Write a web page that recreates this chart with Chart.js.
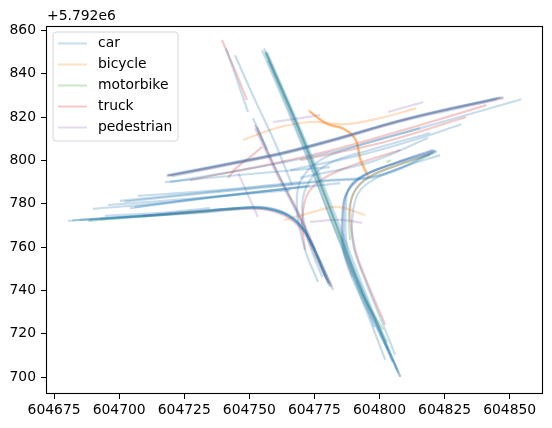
<!DOCTYPE html>
<html>
<head>
<meta charset="utf-8">
<script src="https://cdn.jsdelivr.net/npm/chart.js@4"></script>
<style>
    body { margin: 0; background: #fff; }
    #tracks { display: block; }
</style>
</head>
<body>
<canvas id="tracks" width="552" height="428"></canvas>
<script>
// y values are stored relative to the axis offset (+5.792e6), like the original plot shows them
const y_offset_label = "+5.792e6";
const categories = ["car", "bicycle", "motorbike", "truck", "pedestrian"];
const x_ticks = [604675, 604700, 604725, 604750, 604775, 604800, 604825, 604850];
const y_ticks = [700, 720, 740, 760, 780, 800, 820, 840, 860];

const car_tracks = [
    // left approach turning south
    [[604680.3, 772.1], [604696.4, 773.5], [604711.8, 774.4], [604731.0, 776.2], [604742.6, 777.6], [604754.1, 778.5], [604763.0, 776.2], [604769.5, 770.7], [604774.1, 761.0], [604778.0, 750.4], [604781.0, 741.6]],
    [[604684.9, 772.5], [604711.8, 774.8], [604731.0, 776.7], [604746.4, 778.0], [604754.9, 778.0], [604763.7, 775.3], [604770.3, 768.9], [604774.9, 758.7], [604779.1, 746.2]],
    [[604692.6, 773.0], [604731.0, 775.8], [604748.3, 777.6], [604756.0, 777.6], [604764.9, 774.4], [604771.4, 767.0], [604776.4, 755.5], [604782.2, 740.2]],
    [[604682.0, 772.3], [604711.8, 774.6], [604742.6, 777.8], [604754.1, 778.3], [604763.4, 775.8], [604770.0, 769.5], [604774.5, 759.5], [604778.5, 748.5], [604780.5, 743.0]],
    [[604688.5, 772.4], [604720.0, 775.5], [604745.0, 777.9], [604755.5, 778.1], [604764.0, 775.0], [604770.8, 768.0], [604775.5, 757.5], [604779.8, 745.0]],
    // from the north-east turning south
    [[604819.5, 812.6], [604796.4, 804.8], [604781.0, 798.8], [604773.3, 790.9], [604770.3, 779.4], [604772.6, 763.3], [604778.0, 746.2]],
    [[604815.7, 814.9], [604792.6, 807.1], [604777.2, 800.1], [604769.5, 790.0], [604768.3, 777.1], [604771.4, 758.7], [604776.4, 743.9]],
    // north to south
    [[604755.7, 851.7], [604769.5, 812.6], [604781.0, 777.1], [604794.5, 735.6], [604802.2, 714.9], [604808.0, 700.1]],
    [[604756.8, 849.9], [604771.4, 809.4], [604783.0, 774.8], [604796.4, 733.3], [604806.8, 703.4]],
    [[604754.9, 850.8], [604768.7, 811.7], [604779.9, 777.1], [604792.6, 738.0], [604802.2, 708.0]],
    [[604757.2, 846.2], [604771.4, 804.8], [604783.0, 767.9], [604792.6, 740.2], [604798.0, 723.0]],
    [[604756.3, 850.2], [604770.2, 811.5], [604781.8, 776.0], [604795.2, 734.8], [604807.3, 702.0]],
    // from the east turning south
    [[604821.8, 803.9], [604808.0, 799.2], [604796.4, 794.6], [604789.5, 789.5], [604787.2, 781.7], [604787.6, 758.7], [604792.6, 742.5], [604800.3, 721.8], [604808.0, 700.1]],
    [[604820.7, 804.8], [604806.0, 798.8], [604794.5, 793.2], [604788.7, 787.2], [604786.0, 779.4], [604786.0, 758.7], [604790.7, 742.5], [604798.3, 724.1], [604803.3, 712.6]],
    [[604821.0, 804.3], [604806.8, 799.0], [604795.2, 793.8], [604789.0, 788.2], [604786.5, 780.5], [604786.8, 758.7], [604791.5, 742.5], [604799.5, 722.8], [604805.0, 707.0]],
    [[604823.3, 802.4], [604809.9, 797.4], [604799.5, 792.3], [604792.6, 786.3], [604789.9, 777.1], [604789.9, 761.0], [604794.5, 744.8], [604802.2, 721.8], [604806.0, 710.3]],
    // west to east, upper road
    [[604718.3, 793.2], [604742.6, 798.8], [604761.8, 803.4], [604781.0, 809.4], [604808.0, 818.6], [604827.2, 824.1], [604847.6, 829.2]],
    [[604718.8, 793.0], [604742.6, 798.6], [604761.8, 803.2], [604781.0, 809.1], [604808.0, 818.4], [604827.2, 823.9], [604846.5, 829.0]],
    [[604720.0, 792.6], [604742.6, 798.0], [604761.8, 802.6], [604781.0, 808.6], [604808.0, 817.8], [604827.2, 823.2], [604845.0, 828.0]],
    [[604719.5, 790.0], [604742.6, 794.6], [604761.8, 798.8], [604784.9, 804.8], [604815.7, 814.9], [604854.5, 828.2]],
    [[604765.7, 795.5], [604792.6, 802.4], [604815.7, 810.3], [604831.4, 816.7]],
    [[604769.5, 791.9], [604796.4, 799.2], [604818.7, 810.3]],
    // west to east, lower road
    [[604700.3, 781.3], [604731.0, 785.0], [604761.8, 788.6], [604781.0, 791.0], [604796.4, 792.3], [604808.0, 796.5], [604821.4, 804.8]],
    [[604702.0, 781.0], [604731.0, 784.6], [604761.8, 788.2], [604781.0, 790.6], [604796.4, 791.9], [604808.5, 796.3], [604822.0, 804.4]],
    [[604689.9, 777.6], [604715.7, 780.3], [604750.3, 785.0], [604784.9, 789.5]],
    [[604695.7, 779.4], [604731.0, 782.7], [604765.7, 786.3]],
    [[604707.2, 783.6], [604738.7, 786.3], [604769.5, 790.0]],
    [[604717.6, 790.0], [604750.3, 793.7], [604781.0, 796.9]],
    [[604704.1, 778.0], [604734.9, 782.7], [604773.3, 788.2]],
    [[604706.0, 778.4], [604734.9, 783.0], [604772.0, 788.0]],
    // north-west arm
    [[604741.0, 851.7], [604745.3, 837.0], [604749.5, 822.3]],
    [[604744.5, 848.5], [604752.2, 827.8], [604759.9, 808.0], [604766.4, 788.6]],
    [[604751.4, 819.5], [604756.8, 804.8]],
    [[604753.0, 815.3], [604760.7, 794.6], [604769.5, 773.4], [604776.4, 755.0], [604781.0, 742.5]],
    [[604694.5, 774.4], [604715.7, 775.8], [604734.9, 778.0]]
];

const bicycle_tracks = [
    [[604772.6, 823.2], [604779.5, 817.2], [604786.0, 814.9], [604790.3, 810.7], [604791.8, 806.2], [604792.2, 801.5], [604794.1, 795.5], [604796.0, 792.3]],
    [[604773.3, 822.3], [604779.9, 816.7], [604786.4, 814.4], [604790.7, 809.8], [604791.8, 804.8], [604793.0, 800.1], [604794.9, 794.6]],
    [[604773.0, 822.8], [604779.7, 817.0], [604786.2, 814.6], [604790.5, 810.3], [604791.9, 805.5], [604792.6, 800.8], [604795.5, 793.5]],
    [[604747.6, 809.4], [604760.3, 814.9], [604773.3, 817.7], [604786.8, 816.7], [604800.3, 819.5], [604814.1, 824.1]],
    [[604763.4, 772.5], [604773.3, 775.8], [604783.7, 778.5], [604794.5, 774.8]]
];

const motorbike_tracks = [
    [[604756.0, 849.9], [604769.5, 812.6], [604781.0, 777.1], [604792.6, 740.2], [604801.4, 721.8]],
    [[604756.5, 849.0], [604770.0, 811.8], [604781.5, 776.5], [604794.0, 737.5], [604803.0, 716.0]],
    [[604688.0, 772.1], [604707.3, 773.9], [604731.0, 776.2], [604746.4, 778.0]],
    [[604802.6, 799.2], [604804.5, 800.1]],
    [[604819.5, 802.4], [604806.0, 797.4], [604795.7, 791.9], [604790.3, 785.4], [604788.3, 776.2], [604788.7, 763.3]]
];

const truck_tracks = [
    [[604739.5, 855.4], [604744.5, 841.6], [604749.1, 827.8]],
    [[604752.2, 816.3], [604760.3, 795.5], [604769.5, 774.4], [604776.4, 755.9], [604781.8, 741.6]],
    [[604709.1, 774.4], [604731.0, 776.2], [604746.4, 777.6], [604754.9, 777.6], [604763.7, 774.4], [604770.7, 767.0], [604775.7, 755.0], [604780.3, 743.5]],
    [[604741.8, 791.9], [604745.3, 796.9], [604750.3, 801.5], [604754.9, 806.2]],
    [[604727.2, 790.9], [604761.8, 799.2], [604784.9, 805.7], [604815.7, 816.3], [604841.0, 825.5]],
    [[604769.5, 800.1], [604800.3, 808.0], [604833.3, 820.0]],
    [[604820.7, 803.4], [604807.2, 797.9], [604796.4, 792.8], [604790.7, 786.3], [604788.7, 777.1], [604790.7, 758.7], [604795.7, 742.5], [604802.2, 724.1]],
    [[604718.3, 792.8], [604742.6, 798.3], [604761.8, 802.9], [604781.0, 808.9], [604808.0, 818.2], [604827.2, 823.7], [604847.6, 828.7]],
    [[604808.0, 804.8], [604784.9, 795.5], [604773.3, 786.3], [604770.3, 772.5], [604771.4, 758.7]]
];

const pedestrian_tracks = [
    [[604745.7, 794.2], [604749.5, 784.0], [604753.3, 773.9]],
    [[604759.1, 817.7], [604769.5, 819.5], [604777.2, 820.9]],
    [[604803.3, 822.3], [604816.8, 826.9]],
    [[604773.3, 771.6], [604784.9, 772.5], [604793.3, 771.2]],
    [[604752.2, 814.7], [604760.3, 794.2], [604768.7, 774.8], [604775.3, 758.7]],
    [[604719.0, 793.0], [604742.6, 798.5], [604761.8, 803.1], [604781.0, 809.1], [604808.0, 818.3], [604827.2, 823.8], [604846.0, 828.9]],
    [[604820.3, 804.6], [604806.3, 798.9], [604794.8, 793.4], [604788.8, 787.6], [604786.2, 780.0], [604786.3, 758.7], [604789.5, 746.0]]
];

const colors = {
    car: "rgba(31, 119, 180, 0.25)",
    bicycle: "rgba(255, 127, 14, 0.25)",
    motorbike: "rgba(44, 160, 44, 0.25)",
    truck: "rgba(214, 39, 40, 0.25)",
    pedestrian: "rgba(148, 103, 189, 0.25)"
};

const tracks_by_category = {
    car: car_tracks,
    bicycle: bicycle_tracks,
    motorbike: motorbike_tracks,
    truck: truck_tracks,
    pedestrian: pedestrian_tracks
};

const font_family = "'DejaVu Sans', sans-serif";
const font_size = 13.9;

function build_datasets() {
    let datasets = [];
    for (const cat of categories) {
        for (const track of tracks_by_category[cat]) {
            datasets.push({
                label: cat,
                data: track.map(([x, y]) => ({ x: x, y: y })),
                showLine: true,
                borderColor: colors[cat],
                borderWidth: 2.2,
                pointRadius: 0,
                tension: 0.35,
                fill: false
            });
        }
    }
    return datasets;
}

// frame, offset text and the legend box in the upper left
const decorations = {
    id: "decorations",
    afterDraw(chart) {
        const ctx = chart.ctx;
        const area = chart.chartArea;
        ctx.save();

        ctx.strokeStyle = "#000";
        ctx.lineWidth = 1.1;
        ctx.strokeRect(area.left + 0.5, area.top + 0.5, area.right - area.left - 1, area.bottom - area.top - 1);

        ctx.fillStyle = "#000";
        ctx.font = `${font_size}px ${font_family}`;
        ctx.textBaseline = "middle";
        ctx.textAlign = "left";
        ctx.fillText(y_offset_label, area.left + 1, 16);

        // legend
        const lx = 53, ly = 32, lw = 125, lh = 109, r = 3;
        ctx.beginPath();
        ctx.moveTo(lx + r, ly);
        ctx.arcTo(lx + lw, ly, lx + lw, ly + lh, r);
        ctx.arcTo(lx + lw, ly + lh, lx, ly + lh, r);
        ctx.arcTo(lx, ly + lh, lx, ly, r);
        ctx.arcTo(lx, ly, lx + lw, ly, r);
        ctx.closePath();
        ctx.fillStyle = "rgba(255, 255, 255, 0.8)";
        ctx.fill();
        ctx.strokeStyle = "#d6d6d6";
        ctx.lineWidth = 1;
        ctx.stroke();

        categories.forEach((cat, i) => {
            const yy = 43.5 + i * 21;
            ctx.strokeStyle = colors[cat];
            ctx.lineWidth = 2;
            ctx.beginPath();
            ctx.moveTo(58, yy);
            ctx.lineTo(87, yy);
            ctx.stroke();
            ctx.fillStyle = "#000";
            ctx.fillText(cat, 98, yy);
        });

        ctx.restore();
    }
};

new Chart(document.getElementById("tracks"), {
    type: "scatter",
    data: { datasets: build_datasets() },
    options: {
        responsive: false,
        animation: false,
        devicePixelRatio: 1,
        layout: { padding: { left: 0, right: 9, top: 26, bottom: 0 } },
        plugins: {
            legend: { display: false },
            tooltip: { enabled: false }
        },
        scales: {
            x: {
                type: "linear",
                min: 604671.9,
                max: 604862.8,
                afterBuildTicks: (scale) => { scale.ticks = x_ticks.map(v => ({ value: v })); },
                afterFit: (scale) => { scale.height = 34; },
                grid: { drawOnChartArea: false, drawTicks: true, tickLength: 5, color: "#000", tickWidth: 1 },
                border: { display: false },
                ticks: {
                    color: "#000",
                    padding: 3,
                    maxRotation: 0,
                    font: { family: font_family, size: font_size },
                    callback: (v) => v.toString()
                }
            },
            y: {
                type: "linear",
                min: 692.2,
                max: 862.0,
                afterBuildTicks: (scale) => { scale.ticks = y_ticks.map(v => ({ value: v })); },
                afterFit: (scale) => { scale.width = 46; },
                grid: { drawOnChartArea: false, drawTicks: true, tickLength: 5, color: "#000", tickWidth: 1 },
                border: { display: false },
                ticks: {
                    color: "#000",
                    padding: 5,
                    font: { family: font_family, size: font_size },
                    callback: (v) => v.toString()
                }
            }
        }
    },
    plugins: [decorations]
});
</script>
</body>
</html>
